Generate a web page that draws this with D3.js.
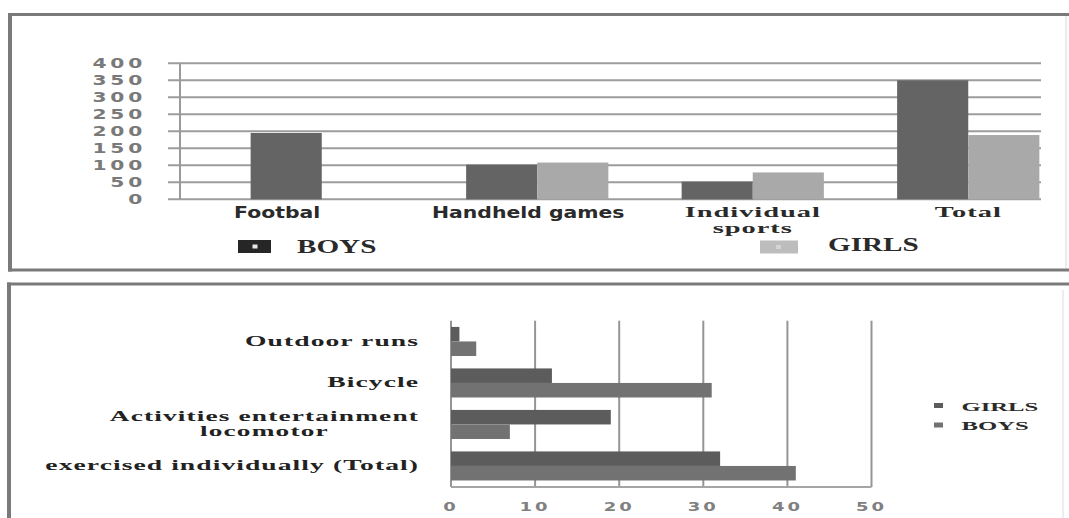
<!DOCTYPE html>
<html><head><meta charset="utf-8">
<script src="https://cdn.jsdelivr.net/npm/d3@7/dist/d3.min.js"></script>
<style>body{margin:0;background:#fff;overflow:hidden}</style>
</head><body>
<svg id="c" width="1069" height="518"></svg>
<script>
// ---- data: top chart ----
const topCategories = ["Footbal", "Handheld games", "Individual\nsports", "Total"];
const topSeries = ["BOYS", "GIRLS"];
const topBoys = [195, 102, 52, 350];
const topGirls = [0, 108, 79, 189];
const topTicks = [0, 50, 100, 150, 200, 250, 300, 350, 400];

// ---- data: bottom chart ----
const bottomCategories = ["Outdoor runs", "Bicycle", "Activities entertainment\nlocomotor", "exercised individually (Total)"];
const bottomSeries = ["GIRLS", "BOYS"];
const bottomGirls = [1, 12, 19, 32];
const bottomBoys = [3, 31, 7, 41];
const bottomTicks = [0, 10, 20, 30, 40, 50];

const svg = d3.select("#c");
const SANS = "'DejaVu Sans', Verdana, sans-serif";
const SERIF = "'Liberation Serif', 'Times New Roman', serif";

function label(parent, x, y, str, o) {
  const lines = str.split("\n");
  const g = parent.append("g").attr("transform", `translate(${x},${y})`);
  const t = g.append("text")
    .attr("transform", `scale(${o.sx || 1},1)`)
    .attr("text-anchor", o.anchor || "middle")
    .style("font-family", o.family)
    .style("font-size", o.size + "px")
    .style("font-weight", o.weight || "bold")
    .style("fill", o.fill || "#222")
    .style("letter-spacing", (o.ls || 0) + "px");
  lines.forEach((l, i) => t.append("tspan").attr("x", 0).attr("dy", i ? o.lh : 0).text(l));
  return g;
}

// ---- panel frames ----
const frame = svg.append("g").attr("stroke", "#7a7a7a").attr("fill", "none");
frame.append("line").attr("x1", 8).attr("x2", 1069).attr("y1", 14.5).attr("y2", 14.5).attr("stroke-width", 3);
frame.append("line").attr("x1", 10).attr("x2", 10).attr("y1", 13).attr("y2", 271.5).attr("stroke-width", 4);
frame.append("line").attr("x1", 8).attr("x2", 1069).attr("y1", 270).attr("y2", 270).attr("stroke-width", 3);
frame.append("line").attr("x1", 1066).attr("x2", 1066).attr("y1", 16).attr("y2", 268).attr("stroke-width", 1).attr("stroke", "#d8d8d8");
frame.append("line").attr("x1", 7).attr("x2", 1069).attr("y1", 284).attr("y2", 284).attr("stroke-width", 3);
frame.append("line").attr("x1", 9).attr("x2", 9).attr("y1", 282.5).attr("y2", 518).attr("stroke-width", 4);
frame.append("line").attr("x1", 1063).attr("x2", 1063).attr("y1", 290).attr("y2", 518).attr("stroke-width", 1).attr("stroke", "#dcdcdc");

// ================= TOP CHART =================
const tAxisX = 180, tGridL = 168, tGridR = 1041;
const ty = d3.scaleLinear().domain([0, 400]).range([199.3, 63.3]);
const tx = d3.scaleBand().domain(topCategories).range([214, 1076]).paddingInner(0.34).paddingOuter(0.17);
const txs = d3.scaleBand().domain(topSeries).range([0, tx.bandwidth()]);
const topColor = d3.scaleOrdinal().domain(topSeries).range(["#646464", "#a9a9a9"]);

const tg = svg.append("g");
tg.selectAll("line.grid").data(topTicks).join("line")
  .attr("x1", tGridL).attr("x2", tGridR)
  .attr("y1", d => ty(d)).attr("y2", d => ty(d))
  .attr("stroke", "#9d9d9d").attr("stroke-width", 2);
tg.append("line").attr("x1", tAxisX).attr("x2", tAxisX).attr("y1", ty(400)).attr("y2", ty(0))
  .attr("stroke", "#9a9a9a").attr("stroke-width", 2);
topTicks.forEach(d => label(tg, 146, ty(d) + 5, String(d),
  { family: SANS, size: 13.5, weight: "bold", fill: "#7a7a7a", anchor: "end", sx: 1.5, ls: 2.5 }));

const topRows = topCategories.map((c, i) => ({ c, vals: [{ s: "BOYS", v: topBoys[i] }, { s: "GIRLS", v: topGirls[i] }] }));
const grp = tg.selectAll("g.cat").data(topRows).join("g").attr("transform", d => `translate(${tx(d.c)},0)`);
grp.selectAll("rect").data(d => d.vals.filter(v => v.v > 0)).join("rect")
  .attr("x", d => txs(d.s)).attr("width", txs.bandwidth())
  .attr("y", d => ty(d.v)).attr("height", d => ty(0) - ty(d.v))
  .attr("fill", d => topColor(d.s));

topRows.forEach((r, i) => {
  const drawn = r.vals.filter(v => v.v > 0);
  const x0 = tx(r.c) + d3.min(drawn, v => txs(v.s));
  const x1 = tx(r.c) + d3.max(drawn, v => txs(v.s) + txs.bandwidth());
  const serif = i >= 2;
  label(tg, (x0 + x1) / 2 - (serif ? 0 : 9), serif ? 216.5 : 217.5, r.c,
    serif ? { family: SERIF, size: 15, fill: "#2a2a2a", sx: 1.9, lh: 16.5, ls: 0.5 }
          : { family: SANS, size: 15, fill: "#2a2a2a", sx: 1.36 });
});

const topLegendPos = { BOYS: [238, 240, 297, 253], GIRLS: [760, 240.5, 828, 251] };
topSeries.forEach(s => {
  const [bx, by, lx, ly] = topLegendPos[s];
  tg.append("rect").attr("x", bx).attr("y", by).attr("width", s === "BOYS" ? 33 : 38).attr("height", 13)
    .attr("fill", s === "BOYS" ? "#262626" : "#bdbdbd");
  tg.append("rect").attr("x", bx + (s === "BOYS" ? 14.5 : 16)).attr("y", by + 4.5).attr("width", 5).attr("height", 4)
    .attr("fill", s === "BOYS" ? "#e8e8e8" : "#d4d4d4");
  label(tg, lx, ly, s, { family: SERIF, size: 18, fill: "#2a2a2a", anchor: "start", sx: 1.62 });
});

// ================= BOTTOM CHART =================
const bx = d3.scaleLinear().domain([0, 50]).range([451, 871.5]);
const by = d3.scaleBand().domain(bottomCategories).range([320.7, 486.7]).paddingInner(0.3).paddingOuter(0.15);
const bys = d3.scaleBand().domain(bottomSeries).range([0, by.bandwidth()]);
const bottomColor = d3.scaleOrdinal().domain(bottomSeries).range(["#5c5c5c", "#727272"]);

const bg = svg.append("g");
bg.selectAll("line.vgrid").data(bottomTicks).join("line")
  .attr("x1", d => bx(d)).attr("x2", d => bx(d))
  .attr("y1", 320.7).attr("y2", 487)
  .attr("stroke", "#959595").attr("stroke-width", 2);
bg.append("line").attr("x1", bx(0)).attr("x2", bx(50)).attr("y1", 487).attr("y2", 487)
  .attr("stroke", "#a5a5a5").attr("stroke-width", 2);

const bottomRows = bottomCategories.map((c, i) => ({ c, vals: [{ s: "GIRLS", v: bottomGirls[i] }, { s: "BOYS", v: bottomBoys[i] }] }));
const bgrp = bg.selectAll("g.cat").data(bottomRows).join("g").attr("transform", d => `translate(0,${by(d.c)})`);
bgrp.selectAll("rect").data(d => d.vals).join("rect")
  .attr("x", bx(0)).attr("width", d => bx(d.v) - bx(0))
  .attr("y", d => bys(d.s)).attr("height", bys.bandwidth())
  .attr("fill", d => bottomColor(d.s));

bottomTicks.forEach(d => label(bg, bx(d), 511, String(d),
  { family: SANS, size: 12, weight: "bold", fill: "#808080", sx: 1.5, ls: 2 }));

bottomRows.forEach(r => {
  const n = r.c.split("\n").length;
  const lh = 15;
  const cy = by(r.c) + by.bandwidth() / 2;
  const y0 = cy - (n - 1) * lh / 2 + 4.5;
  const g = label(bg, 0, y0, r.c,
    { family: SERIF, size: n > 1 ? 14 : 15.5, fill: "#222", sx: n > 1 ? 1.95 : 1.78, lh: lh, ls: 0.6 });
  const w = g.node().getBBox().width;
  g.attr("transform", `translate(${419 - w / 2},${y0})`);
});

bottomSeries.forEach((s, i) => {
  const y = 406 + i * 19.5;
  bg.append("rect").attr("x", 934).attr("y", y - 3).attr("width", 9).attr("height", 5).attr("fill", bottomColor(s));
  label(bg, 961.5, y + 4.5, s, { family: SERIF, size: 13, fill: "#2a2a2a", anchor: "start", sx: 1.9 });
});
</script>
</body></html>
